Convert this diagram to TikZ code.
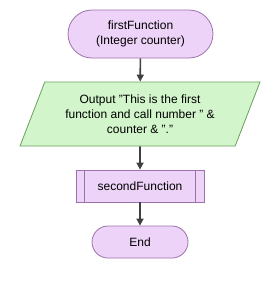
\documentclass[tikz,border=0pt]{standalone}
\usepackage{fontspec}
\setmainfont{Liberation Sans}
\usetikzlibrary{shapes.geometric,arrows.meta}
\definecolor{pfill}{HTML}{EDD3F7}
\definecolor{pdraw}{HTML}{9C72AC}
\definecolor{gfill}{HTML}{D3F5CB}
\definecolor{gdraw}{HTML}{6AA05C}
\definecolor{arr}{HTML}{404040}
\begin{document}
\begin{tikzpicture}[x=1pt,y=-1pt,
  every node/.style={font=\fontsize{12}{15}\selectfont, text=black, align=center, inner sep=0pt},
  term/.style={rectangle, draw=pdraw, fill=pfill, line width=0.8pt},
  io/.style={trapezium, trapezium left angle=63.4, trapezium right angle=116.6, trapezium stretches=true, draw=gdraw, fill=gfill, line width=0.8pt},
  sub/.style={rectangle, draw=pdraw, fill=pfill, line width=0.8pt},
  flow/.style={draw=arr, line width=1.6pt, -{Triangle[length=7pt,width=7pt]}}]
\useasboundingbox (0,0) rectangle (274,289);
\fill[white] (0,0) rectangle (274,289);
\node[term, rounded corners=24pt, minimum width=145pt, minimum height=48pt] (start) at (140.5,34) {firstFunction\\(Integer counter)};
\node[io, minimum width=240pt, minimum height=64pt] (out) at (140,114) {Output "This is the first\\function and call number " \&\\counter \& "."};
\node[sub, minimum width=128pt, minimum height=32pt] (call) at (140,186) {secondFunction};
\draw[pdraw, line width=0.8pt] ([xshift=9pt]call.north west) -- ([xshift=9pt]call.south west)
  ([xshift=-9pt]call.north east) -- ([xshift=-9pt]call.south east);
\node[term, rounded corners=16pt, minimum width=96pt, minimum height=32pt] (end) at (140,242) {End};
\draw[flow] (start) -- (out);
\draw[flow] (out) -- (call);
\draw[flow] (call) -- (end);
\end{tikzpicture}
\end{document}
